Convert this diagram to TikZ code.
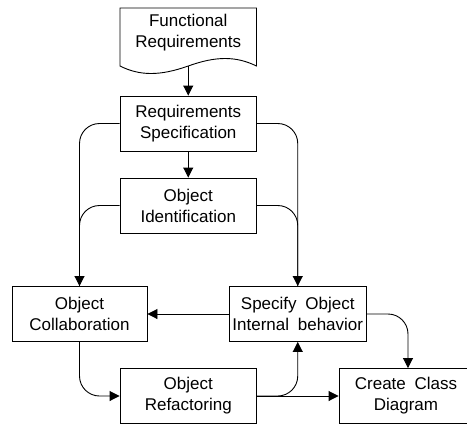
\documentclass[tikz,border=0pt]{standalone}
\usepackage{fontspec}
\setmainfont{Liberation Sans}
\usetikzlibrary{arrows.meta}
\begin{document}
\begin{tikzpicture}[x=1pt,y=-1pt,
  every node/.style={font=\fontsize{17}{21}\selectfont, align=center, inner sep=0pt},
  procbox/.style={draw, line width=0.9pt, minimum width=136.5pt, minimum height=55pt},
  flow/.style={line width=0.9pt, -{Triangle[length=10pt,width=10pt]}},
  link/.style={line width=0.9pt},
  roundturn/.style={rounded corners=20pt}]
\useasboundingbox (0,0) rectangle (467,424);
\fill[white] (0,0) rectangle (467,424);

% source document with wavy lower edge
\draw[line width=0.9pt] (120,8) -- (256.5,8) -- (256.5,66)
  .. controls (236,56) and (216,56) .. (188.25,66)
  .. controls (160,76) and (140,76) .. (120,66) -- cycle;
\node (fr) at (188.25,33) {Functional\\Requirements};
\coordinate (frb) at (188.25,66);

% process boxes
\node[procbox] (rs) at (188.25,123.5) {Requirements\\Specification};
\node[procbox] (oi) at (188.25,205.5) {Object\\Identification};
\node[procbox, minimum width=135pt] (oc) at (79.5,314) {Object\\Collaboration};
\node[procbox, minimum width=137.5pt] (sb) at (297.75,314) {Specify\hspace{4pt} Object\\Internal\hspace{4pt} behavior};
\node[procbox] (or) at (188.25,396) {Object\\Refactoring};
\node[procbox, minimum width=134pt] (cd) at (406,396) {Create\hspace{4pt} Class\\Diagram};

% connectors
\draw[flow] (frb) -- (rs.north);
\draw[flow] (rs.south) -- (oi.north);
\draw[flow, roundturn] (rs.west) -| (oc.north);
\draw[link, roundturn] (oi.west) -| (oc.north);
\draw[flow, roundturn] (rs.east) -| (sb.north);
\draw[link, roundturn] (oi.east) -| (sb.north);
\draw[flow] (sb.west) -- (oc.east);
\draw[flow, roundturn] (sb.east) -| ([xshift=2pt]cd.north);
\draw[flow, roundturn] (oc.south) |- (or.west);
\draw[flow] (or.east) -- (cd.west);
\draw[flow, roundturn] (or.east) -| (sb.south);
\end{tikzpicture}
\end{document}
